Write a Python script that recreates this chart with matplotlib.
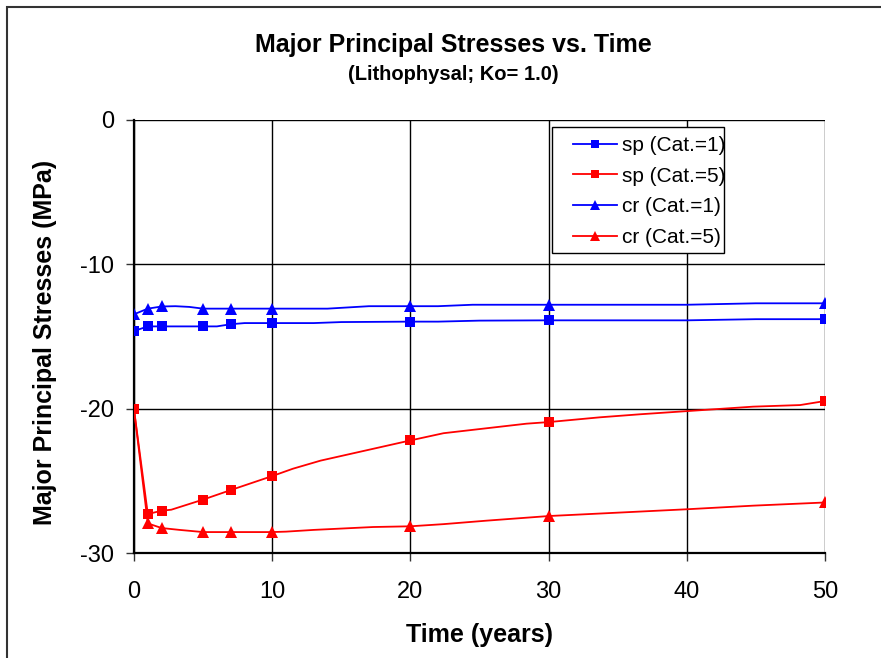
import matplotlib
matplotlib.use("Agg")
import matplotlib.pyplot as plt
from matplotlib.patches import Rectangle

plt.rcParams["font.family"] = ["Liberation Sans", "DejaVu Sans"]
plt.rcParams["axes.unicode_minus"] = False

# ── Data ──────────────────────────────────────────────────────────────────────
MARK_T = [0, 1, 2, 5, 7, 10, 20, 30, 50]

sp1_t = [0, 1, 2, 5, 6, 7, 8, 10, 13, 15, 20, 22, 25, 30, 40, 45, 50]
sp1_y = [-14.62, -14.3, -14.3, -14.3, -14.3, -14.15, -14.07, -14.07, -14.07,
         -14.0, -13.97, -13.97, -13.9, -13.88, -13.88, -13.8, -13.8]

sp5_t = [0, 1, 2, 2.7, 5, 7, 10, 11.5, 13.5, 20, 22.4, 28.4, 30, 33.7, 36.6,
         44.8, 48.2, 50]
sp5_y = [-20.05, -27.3, -27.07, -27.0, -26.3, -25.64, -24.67, -24.16, -23.6,
         -22.2, -21.7, -21.04, -20.93, -20.6, -20.39, -19.86, -19.75, -19.47]

cr1_t = [0, 1, 2, 3, 4, 5, 7, 10, 14, 17, 20, 22, 24.5, 30, 40, 45, 50]
cr1_y = [-13.46, -13.07, -12.92, -12.9, -12.95, -13.07, -13.07, -13.07, -13.07,
         -12.9, -12.9, -12.9, -12.8, -12.8, -12.8, -12.7, -12.7]

cr5_t = [0, 1, 2, 3.3, 5, 7, 10, 11, 13, 17.3, 20, 22.4, 25.5, 30, 40, 44.8, 50]
cr5_y = [-20.05, -27.95, -28.27, -28.4, -28.55, -28.55, -28.55, -28.52, -28.4,
         -28.2, -28.15, -28.0, -27.76, -27.44, -26.97, -26.72, -26.5]

series = [
    ("sp (Cat.=1)", sp1_t, sp1_y, "#0000ff", "s", MARK_T),
    ("sp (Cat.=5)", sp5_t, sp5_y, "#ff0000", "s", MARK_T),
    ("cr (Cat.=1)", cr1_t, cr1_y, "#0000ff", "^", MARK_T),
    ("cr (Cat.=5)", cr5_t, cr5_y, "#ff0000", "^", MARK_T[1:]),
]

X_TICKS = [0, 10, 20, 30, 40, 50]
Y_TICKS = [-30, -20, -10, 0]

# ── Figure ────────────────────────────────────────────────────────────────────
W, H = 881, 658
fig = plt.figure(figsize=(W / 100, H / 100), dpi=100)
ax = fig.add_axes([134 / W, 1 - 553 / H, (825 - 134) / W, (553 - 120) / H])

def ax_xy(px, py):
    # pixel position in the image -> axes fraction
    return (px - 134) / (825 - 134), 1 - (py - 120) / (553 - 120)

# outer chart frame (runs off the right/bottom of the image)
fig.patches.append(Rectangle((7 / W, -0.1), 1.2, 1 - 7 / H + 0.1,
                             transform=fig.transFigure, fill=False,
                             edgecolor="#333333", linewidth=1.5))

for label, t, y, color, mk, mt in series:
    idx = [t.index(v) for v in mt]
    ax.plot(t, y, color=color, linewidth=1.3, marker=mk,
            markersize=6.5 if mk == "s" else 8.5, markevery=idx,
            markeredgewidth=0, label=label, zorder=3)

ax.set_xlim(0, 50)
ax.set_ylim(-30, 0)
ax.set_xticks(X_TICKS)
ax.set_yticks(Y_TICKS)
ax.grid(True, color="black", linewidth=1.0)
ax.set_axisbelow(True)
for s in ["top", "right"]:
    ax.spines[s].set_visible(False)
for s in ["left", "bottom"]:
    ax.spines[s].set_linewidth(1.6)
ax.tick_params(axis="both", direction="out", length=5.5, width=1.0,
               labelsize=17, color="#333333")
ax.tick_params(axis="x", pad=14.5)
ax.tick_params(axis="y", pad=9)

# legend: frame drawn by hand so the inner spacing can match
x0, y0 = ax_xy(552, 253)
x1, y1 = ax_xy(724, 127)
ax.add_patch(Rectangle((x0, y0), x1 - x0, y1 - y0, transform=ax.transAxes,
                       facecolor="white", edgecolor="black", linewidth=1.0,
                       zorder=4))
leg = ax.legend(loc="upper left", bbox_to_anchor=ax_xy(573, 136),
                borderaxespad=0, borderpad=0, fontsize=15, frameon=False,
                handlelength=2.1, handletextpad=0.25, labelspacing=0.56,
                markerscale=0.85)
leg.set_zorder(5)

fig.text(453 / W, 1 - 45 / H, "Major Principal Stresses vs. Time",
         ha="center", va="center", fontsize=18, fontweight="bold")
fig.text(453 / W, 1 - 75 / H, "(Lithophysal; Ko= 1.0)",
         ha="center", va="center", fontsize=14.5, fontweight="bold")
fig.text(480 / W, 1 - 635 / H, "Time (years)",
         ha="center", va="center", fontsize=18, fontweight="bold")
fig.text(45 / W, 1 - 342 / H, "Major Principal Stresses (MPa)",
         ha="center", va="center", rotation=90, fontsize=18, fontweight="bold")

fig.savefig("out.png", dpi=100)
